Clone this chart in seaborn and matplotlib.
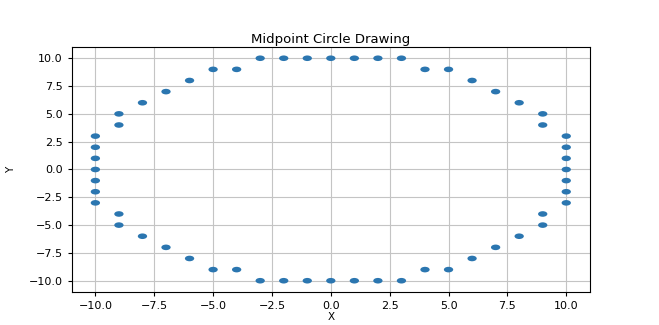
import matplotlib
matplotlib.use("Agg")
import matplotlib.pyplot as plt
import seaborn as sns
import pandas as pd
from matplotlib.path import Path
from matplotlib.transforms import Affine2D

# Points produced by the midpoint circle algorithm (radius 10)
x_vals = [-10, -10, -10, -10, -10, -10, -10,
          -9, -9, -8, -7, -6, -5, -4, -3, -2, -1, 0, 1, 2, 3,
          4, 5, 6, 7, 8, 9, 9,
          10, 10, 10, 10, 10, 10, 10,
          9, 9, 8, 7, 6, 5, 4, 3, 2, 1, 0, -1, -2, -3,
          -4, -5, -6, -7, -8, -9, -9]
y_vals = [-3, -2, -1, 0, 1, 2, 3,
          4, 5, 6, 7, 8, 9, 9, 10, 10, 10, 10, 10, 10, 10,
          9, 9, 8, 7, 6, 5, 4,
          3, 2, 1, 0, -1, -2, -3,
          -4, -5, -6, -7, -8, -9, -9, -10, -10, -10, -10, -10, -10, -10,
          -9, -9, -8, -7, -6, -5, -4]

title = "Midpoint Circle Drawing"
x_label = "X"
y_label = "Y"

df = pd.DataFrame({"X": x_vals, "Y": y_vals})

plt.rcParams['font.family'] = ['DejaVu Sans']
fig = plt.figure(figsize=(6.59, 3.25), dpi=100)
ax = fig.add_axes([0.109, 0.102, 0.786, 0.753])

ellipse = Path.unit_circle().transformed(Affine2D().scale(1.0, 0.6))

sns.scatterplot(data=df, x="X", y="Y", ax=ax, marker=ellipse, s=45,
                color="#2b76b0", edgecolor="none", zorder=3)
ax.grid(True, color="#c4c4c4", linewidth=0.8)
ax.set_axisbelow(True)
ax.set_xlim(-11, 11)
ax.set_ylim(-11, 11)
ax.set_xticks([-10, -7.5, -5, -2.5, 0, 2.5, 5, 7.5, 10])
ax.set_yticks([-10, -7.5, -5, -2.5, 0, 2.5, 5, 7.5, 10])
ax.tick_params(labelsize=8, length=3)
ax.set_title(title, fontsize=9.5, pad=3)
ax.set_xlabel(x_label, fontsize=7.5, labelpad=0.5)
ax.set_ylabel(y_label, fontsize=7.5, labelpad=9)

fig.savefig("out.png", dpi=100)
